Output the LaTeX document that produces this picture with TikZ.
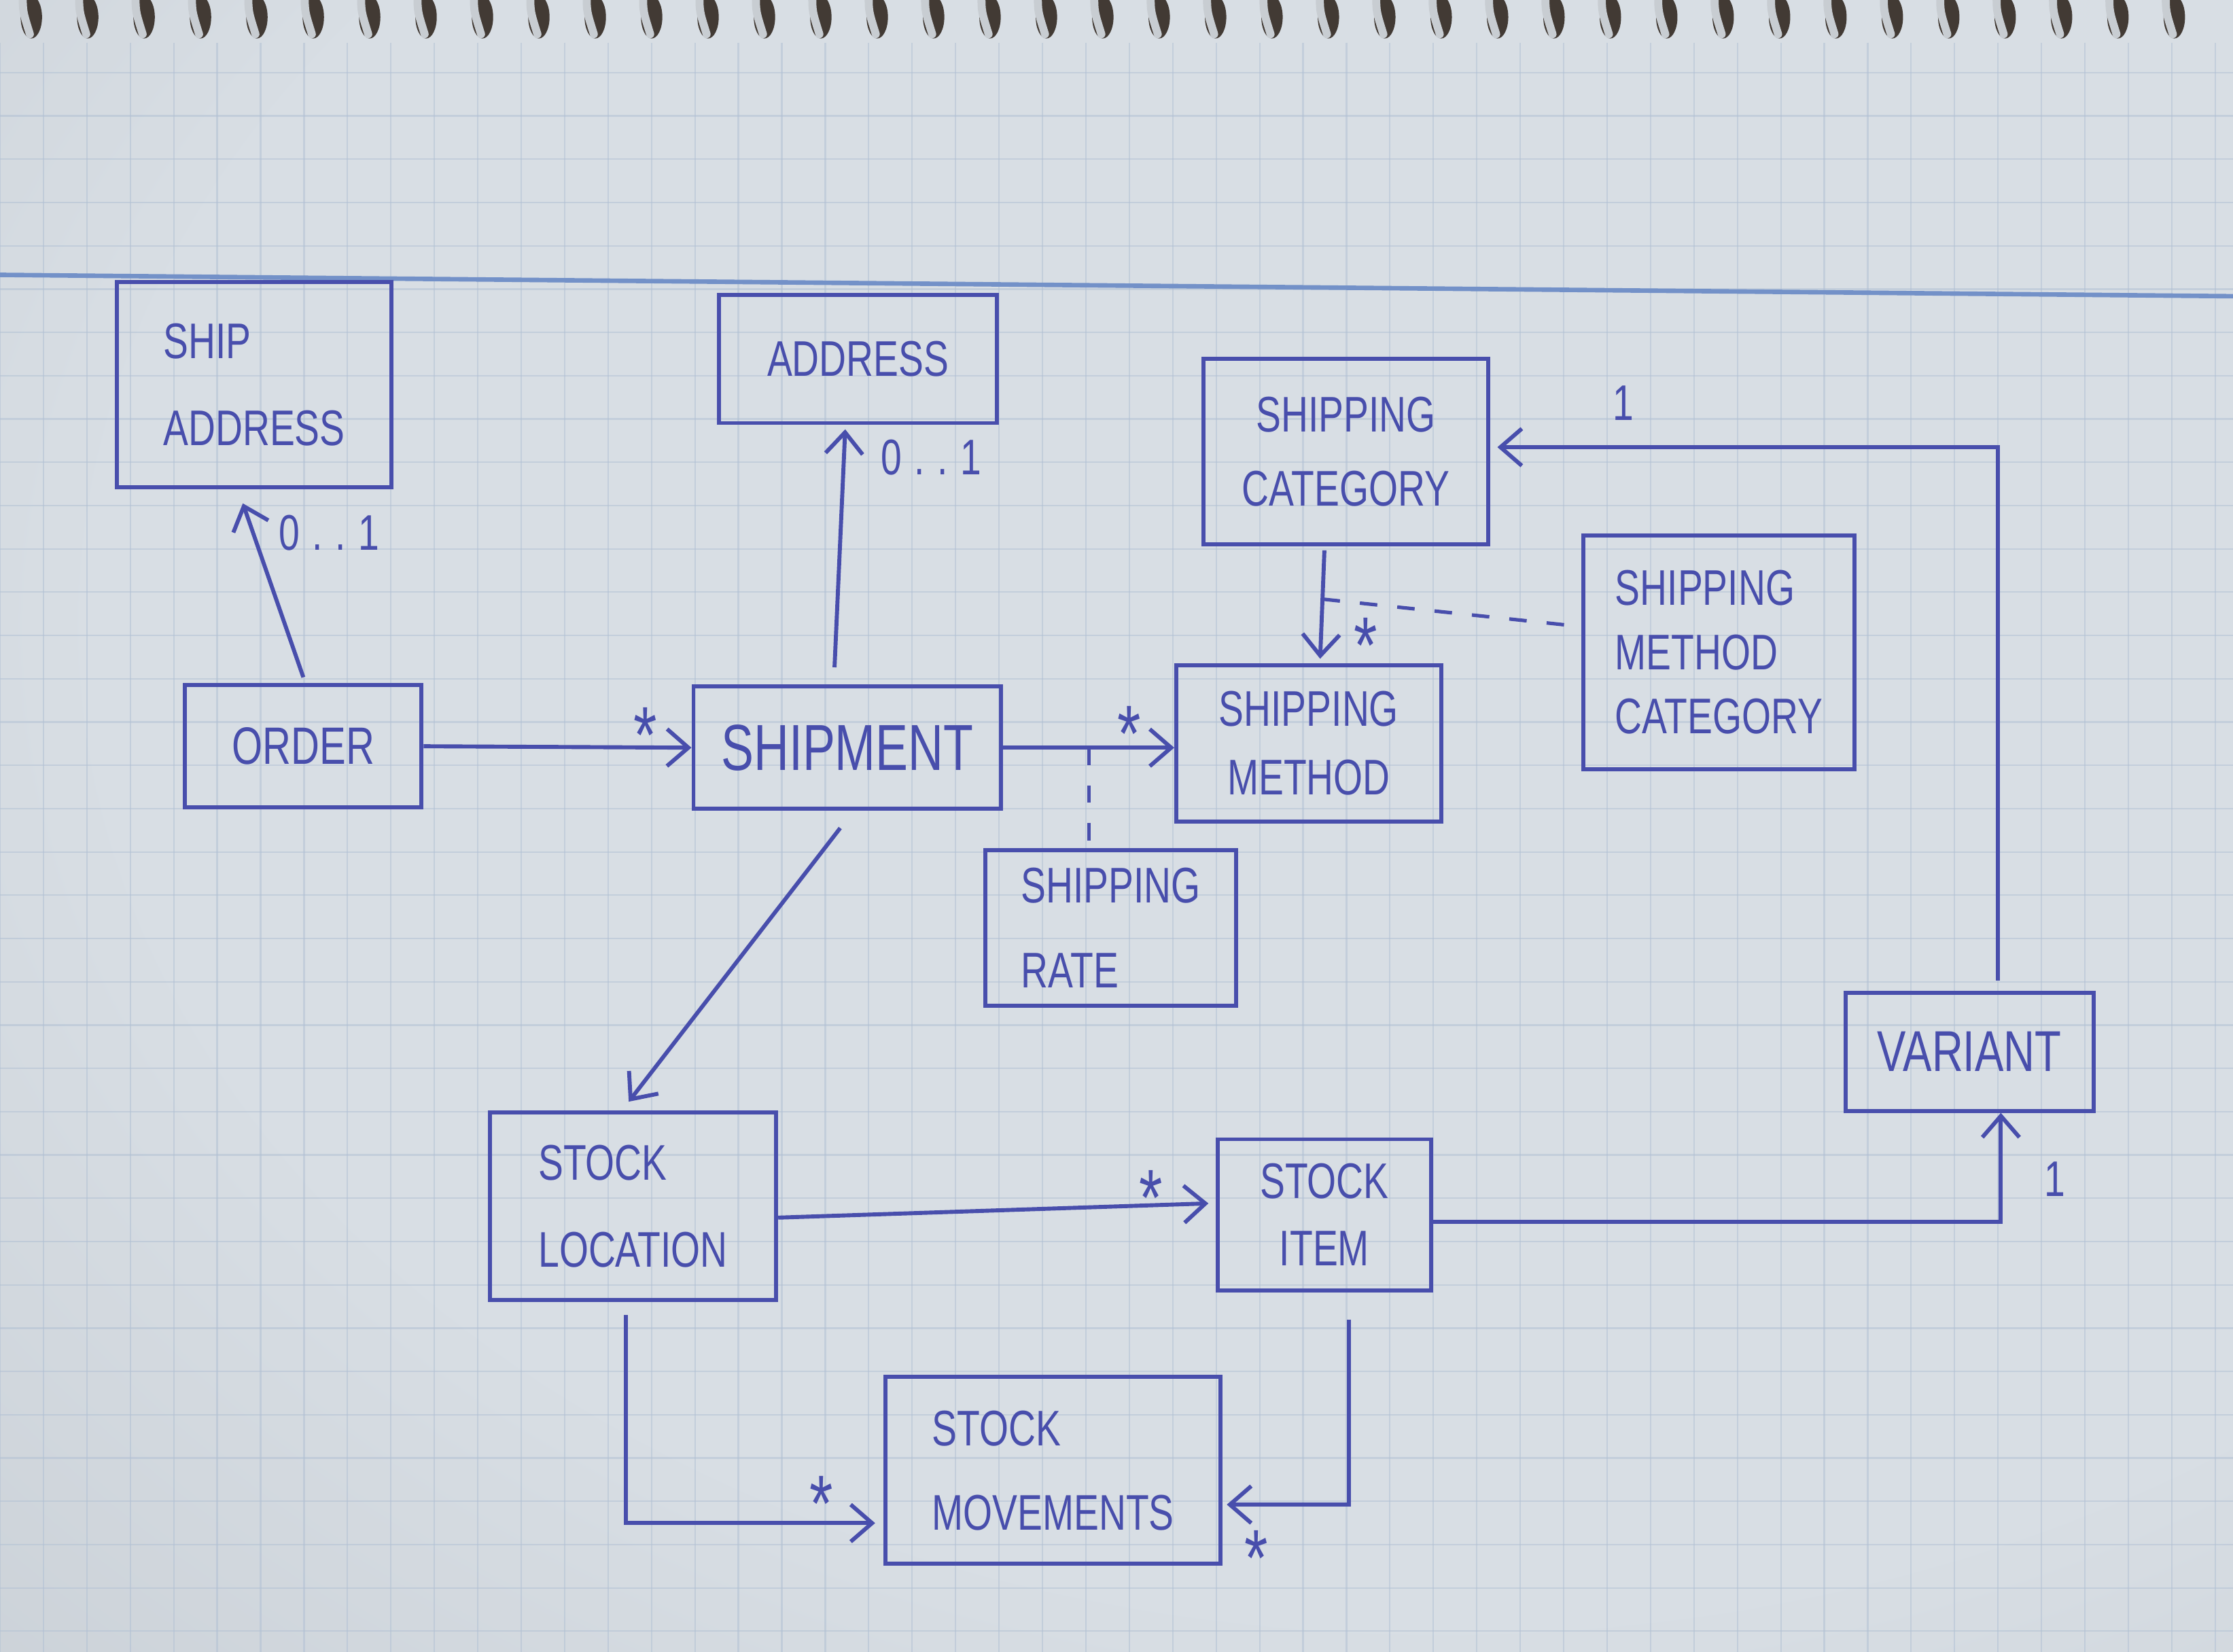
\documentclass[tikz,border=0pt]{standalone}
\usepackage{fontspec}
\newfontfamily\hand[FakeStretch=0.75]{Liberation Sans}
\usetikzlibrary{arrows.meta,calc}
\definecolor{ink}{RGB}{72,78,172}
\definecolor{paperin}{RGB}{216,222,228}
\definecolor{paperout}{RGB}{172,179,186}
\definecolor{gridc}{RGB}{178,193,212}
\definecolor{marginc}{RGB}{115,145,200}
\definecolor{hole}{RGB}{66,58,52}
\definecolor{wire}{RGB}{200,205,210}
\pgfdeclareradialshading{paper}{\pgfpoint{12bp}{10bp}}{color(0bp)=(paperin); color(30bp)=(paperin); color(78bp)=(paperout)}
\newcommand{\starmark}{\raisebox{-7pt}{*}}
\begin{document}
\begin{tikzpicture}[x=0.01cm,y=-0.01cm,
  box/.style={draw=ink, line width=0.8pt, inner sep=0pt, align=center, text=ink},
  fs/.style={font=\hand\fontsize{10}{#1}\selectfont},
  lbl/.style={text=ink, inner sep=0pt, font=\hand\fontsize{10}{12}\selectfont},
  star/.style={text=ink, inner sep=0pt, text height=4.5pt, text depth=0pt, font=\hand\fontsize{16}{16}\selectfont},
  assoc/.style={draw=ink, line width=0.8pt, -{Straight Barb[length=1.5mm,width=2.6mm]}},
  link/.style={draw=ink, line width=0.7pt, dash pattern=on 3.5pt off 4pt},
]
% paper background
\path[use as bounding box] (0,0) rectangle (1568,1160);
\shade[shading=paper] (0,0) rectangle (1568,1160);
\begin{scope}[opacity=0.55]
\foreach \x in {0,30.5,...,1568} \draw[gridc, line width=0.3pt] (\x,30) -- (\x,1160);
\foreach \y in {51.0,81.4,...,1160} \draw[gridc, line width=0.3pt] (0,\y) -- (1568,\y);
\end{scope}
\draw[marginc, line width=0.9pt] (0,193) -- (1568,208);
% spiral binding
\foreach \i in {0,...,38} {
  \pgfmathsetmacro\xx{22+39.6*\i}
  \fill[hole] (\xx,12) ellipse [x radius=0.075cm, y radius=0.15cm];
  \draw[wire, line width=1.6pt, line cap=round] (\xx-6,-3) .. controls (\xx-6,8) .. (\xx-1,24);
}

% classes
\node[box, fs=17.4, align=left, minimum width=1.93cm, minimum height=1.44cm] (shipaddr) at (178.5,270) {SHIP\\ADDRESS};
\node[box, fs=14, minimum width=1.95cm, minimum height=0.90cm] (address) at (602.5,252) {ADDRESS};
\node[box, fs=14.8, minimum width=2.00cm, minimum height=1.30cm] (shipcat) at (945,317) {SHIPPING\\CATEGORY};
\node[box, fs=12.8, align=left, minimum width=1.90cm, minimum height=1.64cm] (smcat) at (1207,458) {SHIPPING\\METHOD\\CATEGORY};
\node[box, font=\hand\fontsize{10.5}{12}\selectfont, minimum width=1.66cm, minimum height=0.86cm] (order) at (213,524) {ORDER};
\node[box, font=\hand\fontsize{13}{15}\selectfont, minimum width=2.16cm, minimum height=0.86cm] (shipment) at (595,525) {SHIPMENT};
\node[box, fs=13.7, minimum width=1.86cm, minimum height=1.10cm] (shipmeth) at (919,522) {SHIPPING\\METHOD};
\node[box, fs=17, align=left, minimum width=1.76cm, minimum height=1.09cm] (shiprate) at (780,651.5) {SHIPPING\\RATE};
\node[box, font=\hand\fontsize{11.5}{13}\selectfont, minimum width=1.74cm, minimum height=0.83cm] (variant) at (1383,738.5) {VARIANT};
\node[box, fs=17.4, align=left, minimum width=2.01cm, minimum height=1.32cm] (stockloc) at (444.5,847) {STOCK\\LOCATION};
\node[box, fs=13.4, minimum width=1.50cm, minimum height=1.06cm] (stockitem) at (930,853) {STOCK\\ITEM};
\node[box, fs=16.8, align=left, minimum width=2.35cm, minimum height=1.31cm] (stockmov) at (739.5,1032.5) {STOCK\\MOVEMENTS};

% associations
\draw[assoc] ($(order.north)+(0,-4)$) -- ($(shipaddr.south)+(-8,10)$);
\node[lbl] (m1) at (231,374) {0\kern2.5pt.\kern2.5pt.\kern2.5pt1};

\draw[assoc] ($(shipment.north)+(-9,-12)$) -- ($(address.south)+(-9,3)$);
\node[lbl] (m2) at (654,321) {0\kern2.5pt.\kern2.5pt.\kern2.5pt1};

\draw[assoc] (order.east) -- (shipment.west);
\node[star] (m3) at (453,503) {\starmark};

\draw[assoc] (shipment.east) -- (shipment.east -| shipmeth.west);
\coordinate (rj) at ($(shipment.east)!0.5!(shipment.east -| shipmeth.west)$);
\draw[link] (rj) -- (rj |- shiprate.north);
\node[star] (m4) at (793,502) {\starmark};

\coordinate (fs0) at ($(shipcat.south)+(-15,3)$);
\coordinate (fe0) at ($(shipmeth.north)+(8,-3)$);
\draw[assoc] (fs0) -- (fe0);
\coordinate (cj) at ($(fs0)!0.45!(fe0)$);
\draw[link] (cj) -- ($(smcat.west)+(0,-18)$);
\node[star] (m5) at (959,440) {\starmark};

\draw[assoc] ($(variant.north)+(20,-7)$) |- ($(shipcat.east)+(5,-3)$);
\node[lbl] (m6) at (1140,283) {1};

\draw[assoc] ($(shipment.south)+(-5,12)$) -- ($(stockloc.north)+(-3,-6)$);

\draw[assoc] ($(stockloc.east)+(0,8)$) -- ($(stockitem.west)+(-5,-8)$);
\node[star] (m7) at (808,828) {\starmark};

\draw[assoc] ($(stockitem.east)+(0,5)$) -| ($(variant.south)+(22,0)$);
\node[lbl] (m8) at (1443,828) {1};

\draw[assoc] ($(stockloc.south)+(-5,9)$) |- ($(stockmov.west)+(-6,37)$);
\node[star] (m9) at (577,1043) {\starmark};

\draw[assoc] ($(stockitem.south)+(17,19)$) |- ($(stockmov.east)+(3,24)$);
\node[star] (m10) at (882,1081) {\starmark};
\end{tikzpicture}
\end{document}
